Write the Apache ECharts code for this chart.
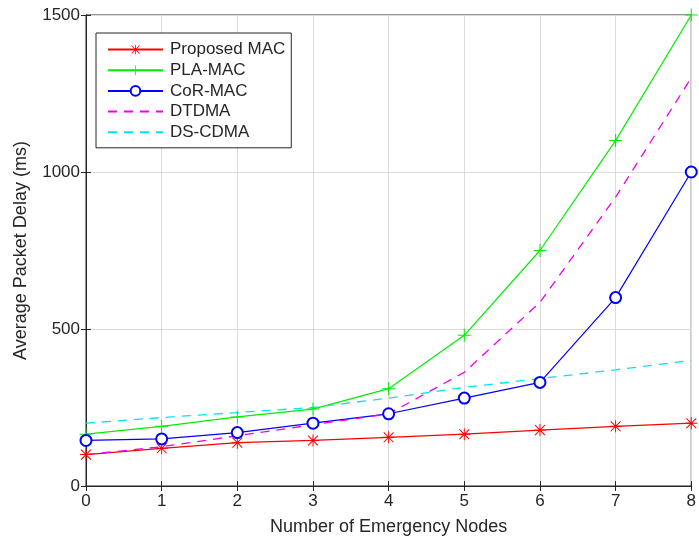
<!DOCTYPE html>
<html>
<head>
<meta charset="utf-8">
<script src="https://cdn.jsdelivr.net/npm/echarts@6/dist/echarts.min.js"></script>
<style>
  html, body { margin: 0; padding: 0; background: #fff; }
  #chart { width: 699px; height: 545px; }
</style>
</head>
<body>
<div id="chart"></div>
<script>
// number of emergency nodes
const nodes = [0, 1, 2, 3, 4, 5, 6, 7, 8];
// average packet delay (ms)
const proposedMac = [100, 120, 138, 145, 155, 165, 178, 190, 200];
const plaMac = [165, 190, 220, 245, 310, 480, 750, 1100, 1500];
const corMac = [145, 150, 170, 200, 230, 280, 330, 600, 1000];
const dtdma = [100, 125, 160, 195, 230, 362, 585, 920, 1300];
const dsCdma = [200, 218, 234, 250, 280, 314, 342, 370, 400];
const yTicks = [0, 500, 1000, 1500];

const FONT = 'Liberation Sans';
const TEXT = '#262626';

// marker shapes (MATLAB style)
const plusPath = 'path://M4.6,0h0.8v10h-0.8z M0,4.6h10v0.8h-10z';
const starPath = 'path://M4.6,0h0.8v10h-0.8z M0,4.6h10v0.8h-10z ' +
  'M1.2,0.6L9.4,8.8L8.8,9.4L0.6,1.2z M8.8,0.6L9.4,1.2L1.2,9.4L0.6,8.8z';

const pairs = arr => nodes.map((x, i) => [x, arr[i]]);

const chart = echarts.init(document.getElementById('chart'));

function lineSeries(name, data, color, opts) {
  return Object.assign({
    name: name,
    type: 'line',
    data: pairs(data),
    color: color,
    lineStyle: { color: color, width: 1.2 },
    itemStyle: { color: color },
    showSymbol: true,
    symbol: 'none',
    symbolSize: 10,
    animation: false,
    z: 3
  }, opts || {});
}

chart.setOption({
  backgroundColor: '#fff',
  textStyle: { fontFamily: FONT },
  grid: {
    left: 86, right: 3, top: 15, bottom: 59,
    show: true, borderColor: '#262626', borderWidth: 1
  },
  legend: {
    orient: 'vertical',
    left: 96, top: 33,
    padding: [8, 6, 7, 11],
    itemWidth: 55, itemHeight: 12,
    itemGap: 3.7,
    borderColor: '#262626', borderWidth: 1,
    backgroundColor: '#fff',
    textStyle: { fontFamily: FONT, fontSize: 17, color: TEXT, padding: [0, 0, 0, 2] },
    data: [
      { name: 'Proposed MAC' },
      { name: 'PLA-MAC' },
      { name: 'CoR-MAC' },
      { name: 'DTDMA', itemStyle: { opacity: 0 } },
      { name: 'DS-CDMA', itemStyle: { opacity: 0 } }
    ]
  },
  xAxis: [{
    type: 'value',
    min: 0, max: 8, interval: 1,
    name: 'Number of Emergency Nodes',
    nameLocation: 'middle',
    nameGap: 32,
    nameTextStyle: { fontFamily: FONT, fontSize: 18, color: TEXT },
    axisLine: { show: true, lineStyle: { color: '#262626' } },
    axisTick: { show: true, inside: true, length: 5, lineStyle: { color: '#262626' } },
    axisLabel: { fontFamily: FONT, fontSize: 17, color: TEXT, margin: 7, showMaxLabel: true },
    splitLine: { show: true, lineStyle: { color: '#dcdcdc', width: 1 } }
  }, {
    type: 'value', position: 'top',
    min: 0, max: 8, interval: 1,
    axisLine: { show: true, lineStyle: { color: '#262626' } },
    axisTick: { show: true, inside: true, length: 5, lineStyle: { color: '#262626' } },
    axisLabel: { show: false },
    splitLine: { show: false }
  }],
  yAxis: [{
    type: 'value',
    min: yTicks[0], max: yTicks[yTicks.length - 1], interval: 500,
    name: 'Average Packet Delay (ms)',
    nameLocation: 'middle',
    nameGap: 56,
    nameTextStyle: { fontFamily: FONT, fontSize: 18, color: TEXT },
    axisLine: { show: true, lineStyle: { color: '#262626' } },
    axisTick: { show: true, inside: true, length: 5, lineStyle: { color: '#262626' } },
    axisLabel: { fontFamily: FONT, fontSize: 17, color: TEXT, margin: 6, formatter: v => String(v) },
    splitLine: { show: true, lineStyle: { color: '#dcdcdc', width: 1 } }
  }, {
    type: 'value', position: 'right',
    min: 0, max: 1500, interval: 500,
    axisLine: { show: true, lineStyle: { color: '#262626' } },
    axisTick: { show: true, inside: true, length: 5, lineStyle: { color: '#262626' } },
    axisLabel: { show: false },
    splitLine: { show: false }
  }],
  series: [
    lineSeries('Proposed MAC', proposedMac, '#ff0000', { symbol: starPath, symbolSize: 12 }),
    lineSeries('PLA-MAC', plaMac, '#00ee00', { symbol: plusPath, symbolSize: 13 }),
    lineSeries('CoR-MAC', corMac, '#0000ff', {
      symbol: 'emptyCircle', symbolSize: 11,
      itemStyle: { color: '#0000ff', borderWidth: 1.2 }
    }),
    lineSeries('DTDMA', dtdma, '#ee00ee', {
      lineStyle: { color: '#ee00ee', width: 1.3, type: [9, 7] }
    }),
    lineSeries('DS-CDMA', dsCdma, '#00e5ee', {
      lineStyle: { color: '#00e5ee', width: 1.3, type: [9, 7] }
    })
  ]
});
</script>
</body>
</html>
